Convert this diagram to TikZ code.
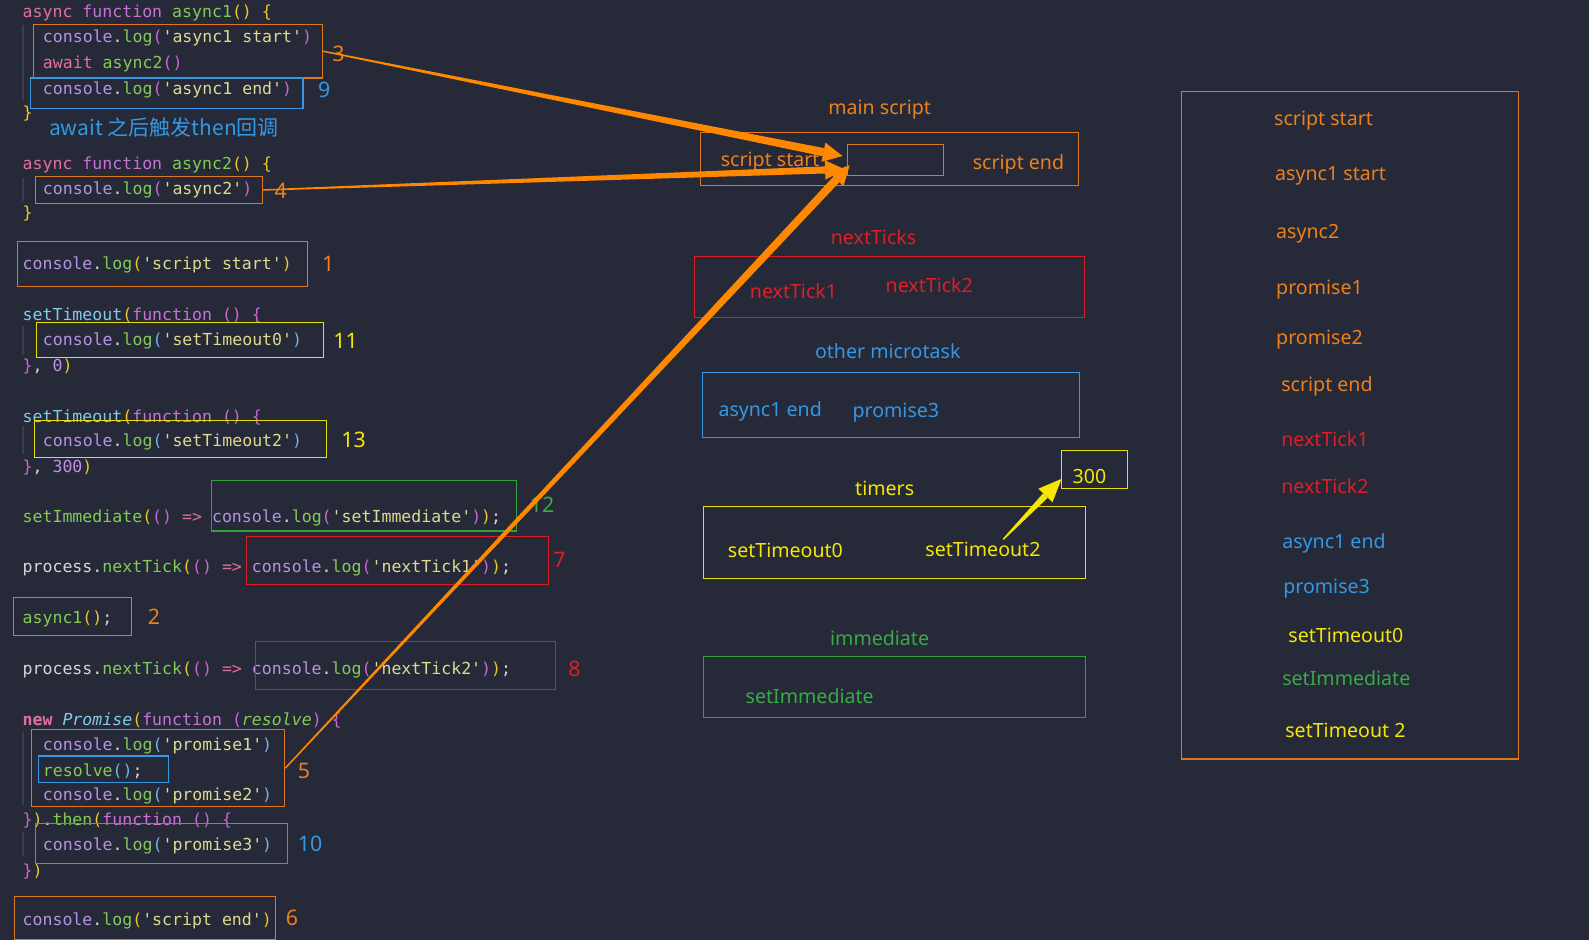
\documentclass[tikz,border=0pt]{standalone}
\usepackage{fontspec}
\setmainfont{Noto Sans}
\setmonofont{DejaVu Sans Mono}
\newfontfamily\cjkfont{Noto Sans CJK SC}
\usepackage{xcolor}
\usetikzlibrary{arrows.meta,positioning,calc,fit}
% editor colours
\definecolor{editorbg}{RGB}{38,41,55}
\definecolor{guide}{RGB}{58,62,78}
\definecolor{jsplain}{RGB}{212,214,220}
\definecolor{jspink}{RGB}{228,110,164}
\definecolor{jspurple}{RGB}{200,114,214}
\definecolor{jsmag}{RGB}{204,102,210}
\definecolor{jsgreen}{RGB}{130,204,86}
\definecolor{jslav}{RGB}{182,146,228}
\definecolor{jsstr}{RGB}{222,218,144}
\definecolor{jsyel}{RGB}{236,200,40}
\definecolor{jsblue}{RGB}{112,178,234}
\definecolor{jscyan}{RGB}{130,204,234}
\definecolor{jsnum}{RGB}{194,144,234}
% annotation colours
\definecolor{boxorange}{RGB}{222,120,32}
\definecolor{arroworange}{RGB}{255,136,0}
\definecolor{boxblue}{RGB}{52,152,228}
\definecolor{boxyellow}{RGB}{230,222,10}
\definecolor{boxred}{RGB}{220,30,36}
\definecolor{boxgreen}{RGB}{48,160,56}
\definecolor{txtorange}{RGB}{236,128,30}
\definecolor{txtred}{RGB}{222,30,40}
\definecolor{txtblue}{RGB}{52,152,228}
\definecolor{txtyellow}{RGB}{245,232,0}
\definecolor{txtgreen}{RGB}{56,170,70}
% syntax helpers
\newcommand{\ckw}[1]{\textcolor{jspink}{#1}}
\newcommand{\cfn}[1]{\textcolor{jspurple}{#1}}
\newcommand{\cgr}[1]{\textcolor{jsgreen}{#1}}
\newcommand{\ccon}[1]{\textcolor{jslav}{#1}}
\newcommand{\cstr}[1]{\textcolor{jsstr}{#1}}
\newcommand{\cyb}[1]{\textcolor{jsyel}{#1}}
\newcommand{\cpb}[1]{\textcolor{jsmag}{#1}}
\newcommand{\cbb}[1]{\textcolor{jsblue}{#1}}
\newcommand{\ccy}[1]{\textcolor{jscyan}{#1}}
\newcommand{\cnum}[1]{\textcolor{jsnum}{#1}}
% tapering arrow: colour, tail, tip, shaft half width, head half width, head length
\newcommand{\taperarrow}[6]{%
  \path ($(#3)!#6!(#2)$) coordinate (tb);
  \fill[#1] ($(#2)!0.4pt!90:(#3)$) -- ($(tb)!#4!-90:(#2)$) -- ($(tb)!#4!90:(#2)$) -- ($(#2)!0.4pt!-90:(#3)$) -- cycle;
  \fill[#1] (#3) -- ($(tb)!#5!-90:(#2)$) -- ($(tb)!#5!90:(#2)$) -- cycle;
}

\begin{document}
\begin{tikzpicture}[
    x=0.02cm, y=-0.02cm,
    code/.style={anchor=west, inner sep=0pt, yshift=-1pt, text=jsplain, font=\ttfamily\fontsize{9.3}{11}\selectfont},
    frame/.style={rectangle, draw, inner sep=0pt, line width=0.6pt},
    qlabel/.style={inner sep=0pt, yshift=-1pt, font=\fontsize{11}{13}\selectfont},
    item/.style={qlabel, anchor=west},
    num/.style={inner sep=0pt, font=\fontsize{12}{14}\selectfont}
]
\fill[editorbg] (0,0) rectangle (1568,928);
\useasboundingbox (0,0) rectangle (1568,928);

% indent guides
\draw[guide, line width=1pt] (23,25) -- (23,99);
\draw[guide, line width=1pt] (23,176) -- (23,198);
\draw[guide, line width=1pt] (23,322) -- (23,350);
\draw[guide, line width=1pt] (23,420) -- (23,448);
\draw[guide, line width=1pt] (23,722) -- (23,794);
\draw[guide, line width=1pt] (23,821) -- (23,845);

% source code
\node[code] (c1) at (22,11) {\ckw{async} \cfn{function} \cgr{async1}\cyb{()} \cyb{\{}};
\node[code] (c2) at (42,36) {\ccon{console}.\cgr{log}\cpb{(}\cstr{'async1 start'}\cpb{)}};
\node[code] (c3) at (42,61) {\ckw{await} \cgr{async2}\cpb{()}};
\node[code] (c4) at (42,87) {\ccon{console}.\cgr{log}\cpb{(}\cstr{'async1 end'}\cpb{)}};
\node[code] (c5) at (22,110) {\cyb{\}}};
\node[anchor=west, inner sep=0pt, text=txtblue, font=\cjkfont\fontsize{11.8}{14}\selectfont] (note) at (48,126) {await 之后触发then回调};
\node[code] (c7) at (22,161) {\ckw{async} \cfn{function} \cgr{async2}\cyb{()} \cyb{\{}};
\node[code] (c8) at (42,186) {\ccon{console}.\cgr{log}\cpb{(}\cstr{'async2'}\cpb{)}};
\node[code] (c9) at (22,209) {\cyb{\}}};
\node[code] (c10) at (22,260) {\ccon{console}.\cgr{log}\cyb{(}\cstr{'script start'}\cyb{)}};
\node[code] (c11) at (22,310) {\ccy{setTimeout}\cyb{(}\cfn{function} \cpb{()} \cpb{\{}};
\node[code] (c12) at (42,335) {\ccon{console}.\cgr{log}\cbb{(}\cstr{'setTimeout0'}\cbb{)}};
\node[code] (c13) at (22,360) {\cpb{\}}, \cnum{0}\cyb{)}};
\node[code] (c14) at (22,410) {\ccy{setTimeout}\cyb{(}\cfn{function} \cpb{()} \cpb{\{}};
\node[code] (c15) at (42,434) {\ccon{console}.\cgr{log}\cbb{(}\cstr{'setTimeout2'}\cbb{)}};
\node[code] (c16) at (22,460) {\cpb{\}}, \cnum{300}\cyb{)}};
\node[code] (c17) at (22,509) {\cgr{setImmediate}\cyb{(}\cpb{()} \ckw{=>} \ccon{console}.\cgr{log}\cpb{(}\cstr{'setImmediate'}\cpb{)}\cyb{)};};
\node[code] (c18) at (22,559) {process.\cgr{nextTick}\cyb{(}\cpb{()} \ckw{=>} \ccon{console}.\cgr{log}\cpb{(}\cstr{'nextTick1'}\cpb{)}\cyb{)};};
\node[code] (c19) at (22,609) {\cgr{async1}\cyb{()};};
\node[code] (c20) at (22,659) {process.\cgr{nextTick}\cyb{(}\cpb{()} \ckw{=>} \ccon{console}.\cgr{log}\cpb{(}\cstr{'nextTick2'}\cpb{)}\cyb{)};};
\node[code] (c21) at (22,709) {\ckw{\bfseries new} \ccy{\itshape Promise}\cyb{(}\cfn{function} \cpb{(}\cgr{\itshape resolve}\cpb{)} \cpb{\{}};
\node[code] (c22) at (42,734) {\ccon{console}.\cgr{log}\cbb{(}\cstr{'promise1'}\cbb{)}};
\node[code] (c23) at (42,759) {\cgr{resolve}\cbb{()};};
\node[code] (c24) at (42,784) {\ccon{console}.\cgr{log}\cbb{(}\cstr{'promise2'}\cbb{)}};
\node[code] (c25) at (22,808) {\cpb{\}}\cyb{)}.\cgr{then}\cyb{(}\cfn{function} \cpb{()} \cpb{\{}};
\node[code] (c26) at (42,833) {\ccon{console}.\cgr{log}\cbb{(}\cstr{'promise3'}\cbb{)}};
\node[code] (c27) at (22,858) {\cpb{\}}\cyb{)}};
\node[code] (c28) at (22,907) {\ccon{console}.\cgr{log}\cyb{(}\cstr{'script end'}\cyb{)}};

% frames round the statements
\node[frame, draw=boxorange, fit={(33,24) (318,77)}] (fA) {};
\node[frame, draw=boxblue, fit={(30,77) (299,107)}] (fB) {};
\node[frame, draw=boxorange, fit={(35,174) (259,201)}] (fC) {};
\node[frame, draw=boxorange, fit={(17,238) (303,283)}] (fD) {};
\node[frame, draw=boxyellow, fit={(36,318) (319,353)}] (fE) {};
\node[frame, draw=boxyellow, fit={(34,415) (322,451)}] (fF) {};
\node[frame, draw=boxgreen, fit={(209,474) (510,524)}] (fG) {};
\node[frame, draw=boxred, fit={(243,529) (541,577)}] (fH) {};
\node[frame, draw=boxorange, fit={(13,590) (130,627)}] (fI) {};
\node[frame, draw=boxred, fit={(252,633) (548,680)}] (fJ) {};
\node[frame, draw=boxorange, fit={(31,720) (281,796)}] (fK) {};
\node[frame, draw=boxblue, fit={(38,746) (166,772)}] (fL) {};
\node[frame, draw=boxblue, fit={(35,813) (284,852)}] (fM) {};
\node[frame, draw=boxorange, fit={(14,885) (272,927)}] (fN) {};

% order numbers
\node[num, text=txtorange] (n3) at (334,53) {3};
\node[num, text=txtblue] (n9) at (320,89) {9};
\node[num, text=txtorange] (n4) at (277,188) {4};
\node[num, text=txtorange] (n1) at (324,260) {1};
\node[num, text=txtyellow] (n11) at (341,336) {11};
\node[num, text=txtyellow] (n13) at (349,434) {13};
\node[num, text=txtgreen] (n12) at (535,498) {12};
\node[num, text=txtred] (n7) at (552,552) {7};
\node[num, text=txtorange] (n2) at (152,609) {2};
\node[num, text=txtred] (n8) at (567,660) {8};
\node[num, text=txtorange] (n5) at (300,761) {5};
\node[num, text=txtblue] (n10) at (306,833) {10};
\node[num, text=txtorange] (n6) at (288,906) {6};

% queues
\node[qlabel, text=txtorange] (mainttl) at (868,106) {main script};
\node[frame, draw=boxorange, fit={(691,131) (1064,183)}] (mainq) {};
\node[frame, draw=boxorange, fit={(836,143) (931,173)}] (slot) {};
\node[qlabel, text=txtorange] (ss) at (760,158) {script start};
\node[qlabel, text=txtorange] (se) at (1005,160) {script end};

\node[qlabel, text=txtred] (tickttl) at (862,232) {nextTicks};
\node[frame, draw=boxred, fit={(685,253) (1070,313)}] (tickq) {};
\node[qlabel, text=txtred] (nt1) at (783,286) {nextTick1};
\node[qlabel, text=txtred] (nt2) at (917,280) {nextTick2};

\node[qlabel, text=txtblue] (microttl) at (876,345) {other microtask};
\node[frame, draw=boxblue, fit={(693,368) (1065,432)}] (microq) {};
\node[qlabel, text=txtblue] (ae) at (760,404) {async1 end};
\node[qlabel, text=txtblue] (p3) at (884,405) {promise3};

\node[qlabel, text=txtyellow] (timerttl) at (873,480) {timers};
\node[frame, draw=boxyellow, fit={(694,500) (1071,571)}] (timerq) {};
\node[qlabel, text=txtyellow] (st0) at (775,541) {setTimeout0};
\node[qlabel, text=txtyellow] (st2) at (970,540) {setTimeout2};
\node[frame, draw=boxyellow, fit={(1047,445) (1113,482)}] (f300) {};
\node[qlabel, text=txtyellow] (d300) at (1075,468) {300};

\node[qlabel, text=txtgreen] (immttl) at (868,628) {immediate};
\node[frame, draw=boxgreen, fit={(694,648) (1071,708)}] (immq) {};
\node[qlabel, text=txtgreen] (si) at (799,685) {setImmediate};

% printed order
\node[frame, draw=boxorange, fit={(1166,90) (1498,749)}] (outbox) {};
\node[item, text=txtorange] (o1) at (1257,117) {script start};
\node[item, text=txtorange] (o2) at (1258,172) {async1 start};
\node[item, text=txtorange] (o3) at (1259,229) {async2};
\node[item, text=txtorange] (o4) at (1259,284) {promise1};
\node[item, text=txtorange] (o5) at (1259,333) {promise2};
\node[item, text=txtorange] (o6) at (1264,380) {script end};
\node[item, text=txtred] (o7) at (1264,432) {nextTick1};
\node[item, text=txtred] (o8) at (1264,478) {nextTick2};
\node[item, text=txtblue] (o9) at (1265,534) {async1 end};
\node[item, text=txtblue] (o10) at (1266,579) {promise3};
\node[item, text=txtyellow] (o11) at (1271,625) {setTimeout0};
\node[item, text=txtgreen] (o12) at (1265,667) {setImmediate};
\node[item, text=txtyellow] (o13) at (1268,719) {setTimeout 2};

% arrows
\coordinate (tipA) at ($(slot.west)+(-4,-4)$);
\coordinate (tipB) at ($(slot.west)+(-2,9)$);
\coordinate (tipC) at ($(slot.west)+(3,5)$);
\coordinate (tailT) at ($(st2.north)+(20,-2)$);
\coordinate (tipT) at ($(f300.south west)+(1,-10)$);
\taperarrow{arroworange}{fA.east}{tipA}{2.3pt}{5.5pt}{11pt}
\taperarrow{arroworange}{fC.east}{tipB}{2.0pt}{5.5pt}{11pt}
\taperarrow{arroworange}{fK.east}{tipC}{2.3pt}{5.5pt}{11pt}
\taperarrow{txtyellow}{tailT}{tipT}{1.8pt}{5.5pt}{13pt}
\end{tikzpicture}
\end{document}
